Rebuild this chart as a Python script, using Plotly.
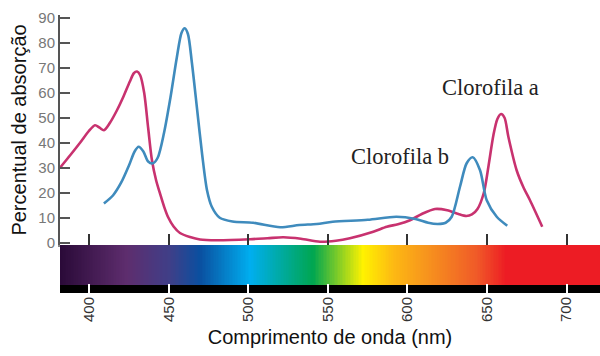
import plotly.graph_objects as go

# Absorption spectra of the two chlorophylls (wavelength in nm, absorption in %)
chl_a_nm = [381.6, 388.0, 394.2, 399.5, 403.6, 406.5, 409.2, 413.0, 417.4, 421.5,
            425.5, 428.0, 430.0, 432.0, 434.5, 437.0, 439.4, 442.0, 444.4, 447.0,
            449.5, 453.0, 457.0, 463.3, 469.6, 480.0, 501.0, 512.0, 522.0, 533.0,
            545.0, 555.0, 563.8, 578.5, 587.0, 594.0, 601.6, 609.0, 617.3, 625.0,
            632.0, 637.0, 640.5, 644.0, 648.0, 651.0, 654.0, 656.5, 658.8, 661.0,
            663.4, 668.6, 673.0, 677.0, 684.7]
chl_a_abs = [30.0, 35.0, 40.0, 44.5, 47.0, 46.0, 45.0, 48.0, 53.0, 58.5,
             64.5, 67.8, 68.5, 67.0, 60.0, 46.0, 33.0, 25.0, 19.8, 14.5,
             10.3, 6.5, 3.9, 2.3, 1.3, 1.0, 1.4, 1.8, 2.2, 1.6,
             0.4, 0.8, 1.8, 4.4, 6.4, 7.4, 9.0, 11.5, 13.5, 13.0,
             11.5, 10.7, 11.3, 13.5, 20.0, 31.0, 43.0, 49.5, 51.5, 50.0,
             42.4, 29.0, 22.0, 17.0, 6.4]

chl_b_nm = [409.2, 415.0, 420.0, 425.0, 428.5, 431.0, 434.0, 437.0, 440.0, 443.0,
            447.0, 451.0, 455.0, 458.0, 460.0, 462.0, 464.5, 468.0, 471.0, 474.0,
            477.0, 482.0, 490.0, 503.0, 520.0, 532.0, 543.0, 553.0, 575.0, 593.0,
            605.0, 613.0, 619.0, 624.0, 627.8, 633.0, 637.2, 641.0, 645.6, 649.8,
            656.1, 662.7]
chl_b_abs = [15.7, 19.0, 24.0, 31.0, 36.5, 38.4, 36.5, 32.5, 31.8, 34.0,
             44.0, 58.0, 74.0, 84.0, 85.8, 83.5, 72.0, 52.0, 35.0, 21.0,
             14.4, 10.0, 8.5, 8.0, 6.2, 7.1, 7.5, 8.4, 9.2, 10.4,
             9.5, 8.0, 7.5, 8.0, 10.4, 22.4, 31.8, 34.2, 29.0, 17.0,
             10.4, 6.8]

# Visible spectrum colour stops
spectrum_nm = [381.6, 423.7, 450.7, 469.6, 501.0, 540.7, 572.0, 591.0, 612.0, 643.5, 662.0, 721.0]
spectrum_colors = ["#2a0a38", "#5e2d6e", "#3f3f88", "#0a4fa0", "#00aeef", "#00a650",
                   "#fff200", "#fdb913", "#f7941d", "#f05a28", "#ed1c24", "#ed1c24"]

tick_nm = [400, 450, 500, 550, 600, 650, 700]
y_ticks = [0, 10, 20, 30, 40, 50, 60, 70, 80, 90]

x_range = [381.6, 721.0]
color_a = "#c8326f"
color_b = "#3f8bbd"

fig = go.Figure()

# Spectrum strip: one cell per nanometre, coloured by wavelength
lo, hi = spectrum_nm[0], spectrum_nm[-1]
colorscale = [[(w - lo) / (hi - lo), c] for w, c in zip(spectrum_nm, spectrum_colors)]
cell_edges = [lo + i for i in range(int(hi - lo) + 1)] + [hi]
cell_mid = [(a + b) / 2 for a, b in zip(cell_edges[:-1], cell_edges[1:])]
fig.add_trace(go.Heatmap(
    x=cell_edges, y=[8, 48], z=[cell_mid],
    colorscale=colorscale, zmin=lo, zmax=hi, showscale=False, hoverinfo="skip",
    xaxis="x2", yaxis="y2",
))
# Black band under the strip
fig.add_trace(go.Heatmap(
    x=x_range, y=[0, 8], z=[[0]],
    colorscale=[[0, "black"], [1, "black"]], showscale=False, hoverinfo="skip",
    xaxis="x2", yaxis="y2",
))

fig.add_trace(go.Scatter(
    x=chl_a_nm, y=chl_a_abs, mode="lines", name="Clorofila a",
    line=dict(color=color_a, width=2.6, shape="spline", smoothing=0.8),
))
fig.add_trace(go.Scatter(
    x=chl_b_nm, y=chl_b_abs, mode="lines", name="Clorofila b",
    line=dict(color=color_b, width=2.6, shape="spline", smoothing=0.8),
))

main_bottom = 0.1727

fig.update_layout(
    width=600, height=356,
    margin=dict(l=60, r=0, t=15, b=63),
    paper_bgcolor="white", plot_bgcolor="white",
    showlegend=False,
    font=dict(family="Liberation Sans, Arial, sans-serif"),
    xaxis=dict(
        range=x_range, domain=[0, 1], anchor="y",
        tickvals=tick_nm, showticklabels=False,
        ticks="inside", ticklen=11, tickwidth=1.5, tickcolor="#333",
        showline=True, linecolor="#888", linewidth=1.5,
        showgrid=False, zeroline=False,
    ),
    yaxis=dict(
        range=[-0.9, 91.1], domain=[main_bottom, 1], anchor="x",
        tickvals=y_ticks,
        ticks="inside", ticklen=10, tickwidth=2, tickcolor="#555",
        showline=True, linecolor="#555", linewidth=2,
        showgrid=False, zeroline=False,
        tickfont=dict(size=15, color="#777"),
        title=dict(text="Percentual de absorção", font=dict(size=20, color="#111"), standoff=6),
    ),
    xaxis2=dict(
        range=x_range, domain=[0, 1], anchor="y2",
        tickvals=tick_nm, tickangle=-90,
        ticks="inside", ticklen=9, tickwidth=2, tickcolor="white",
        showline=False, showgrid=False, zeroline=False,
        tickfont=dict(size=15, color="#333"),
        title=dict(text="Comprimento de onda (nm)", font=dict(size=20, color="#111"), standoff=8),
    ),
    yaxis2=dict(
        range=[0, 48], domain=[0, main_bottom], anchor="x2",
        visible=False, fixedrange=True,
    ),
    annotations=[
        dict(x=651.9, y=62.3, xref="x", yref="y", text="Clorofila a", showarrow=False,
             font=dict(family="Liberation Serif, Times New Roman, serif", size=22.5, color="#222")),
        dict(x=595.3, y=34.3, xref="x", yref="y", text="Clorofila b", showarrow=False,
             font=dict(family="Liberation Serif, Times New Roman, serif", size=22.5, color="#222")),
    ],
)

fig.write_html("out.html")
